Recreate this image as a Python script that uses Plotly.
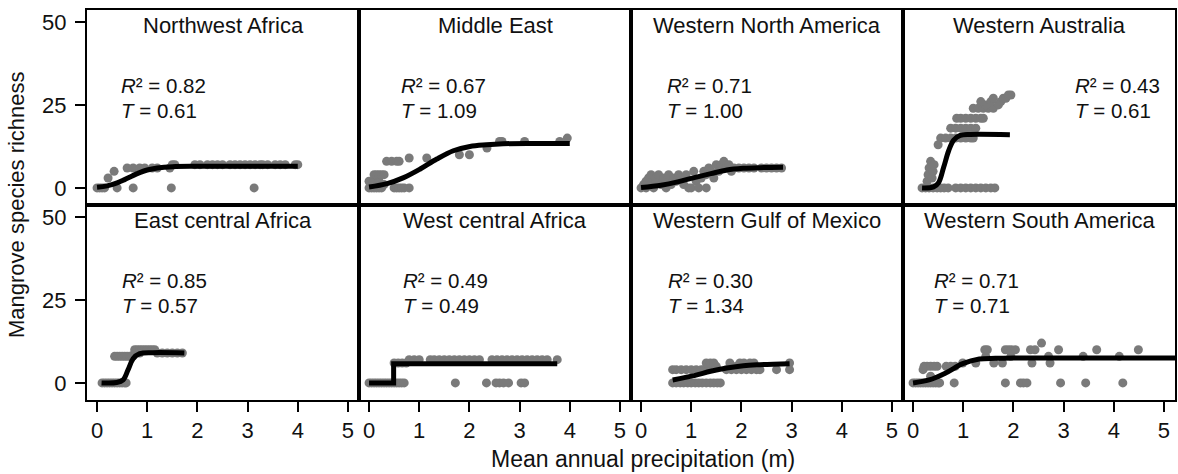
import plotly.graph_objects as go
from plotly.subplots import make_subplots

regions = ["Northwest Africa", "Middle East", "Western North America", "Western Australia",
           "East central Africa", "West central Africa", "Western Gulf of Mexico", "Western South America"]
r2_vals = ["0.82", "0.67", "0.71", "0.43", "0.85", "0.49", "0.30", "0.71"]
t_vals = ["0.61", "1.09", "1.00", "0.61", "0.57", "0.49", "1.34", "0.71"]
label_x = [0.44, 0.59, 0.47, 3.19, 0.46, 0.63, 0.49, 0.37]

x_ticks = [0, 1, 2, 3, 4, 5]
y_ticks = [0, 25, 50]

# ---------- observed points ----------
nwa_x = [0.0, 0.05, 0.1, 0.15, 0.22, 0.34, 0.4, 0.6, 0.72, 0.72, 0.85, 0.95, 1.1, 1.2, 1.45,
         1.48, 1.5, 1.55, 1.95, 2.05, 2.2, 2.3, 2.4, 2.5, 2.65, 2.75, 2.85, 2.95, 3.05,
         3.13, 3.15, 3.25, 3.3, 3.4, 3.55, 3.65, 3.75, 3.95, 4.0]
nwa_y = [0, 0, 0, 0, 3, 5, 0, 6, 0, 6, 6, 6, 6, 6, 6,
         0, 7, 7, 7, 7, 7, 7, 7, 7, 7, 7, 7, 7, 7,
         0, 7, 7, 7, 7, 7, 7, 7, 7, 7]

me_x = [0.0, 0.05, 0.1, 0.15, 0.2, 0.25, 0.5, 0.55, 0.6, 0.65, 0.7, 0.8,
        0.05, 0.15, 0.3, 0.0, 0.1, 0.2, 0.1, 0.15, 0.2, 0.25, 0.3,
        0.35, 0.45, 0.55, 0.6, 0.8, 1.15, 1.8, 2.0, 2.35, 2.6, 2.65, 3.1, 3.8, 3.95]
me_y = [0, 0, 0, 0, 0, 0, 0, 0, 0, 0, 0, 0,
        1, 1, 1, 2, 2, 2, 4, 4, 4, 4, 4,
        8, 8, 8, 8, 9, 9, 10, 10, 12, 14, 14, 14, 14, 15]

wna_x = [0.0, 0.05, 0.1, 0.1, 0.15, 0.2, 0.2, 0.25, 0.3, 0.3, 0.35, 0.4, 0.45, 0.5, 0.5,
         0.55, 0.6, 0.65, 0.7, 0.75, 0.8, 0.85, 0.9, 0.95, 1.0, 1.05, 1.1, 1.15, 1.2,
         1.25, 1.3, 1.3, 1.35, 1.4, 1.45, 1.5, 1.55, 1.6, 1.65, 1.7, 1.75, 1.8, 1.85,
         1.95, 2.05, 2.15, 2.25, 2.4, 2.5, 2.6, 2.7, 2.8]
wna_y = [0, 1, 0, 2, 3, 1, 4, 0, 2, 3, 4, 1, 3, 0, 2,
         4, 1, 3, 2, 4, 3, 1, 4, 0, 0, 5, 2, 0, 3,
         5, 0, 4, 6, 5, 3, 7, 5, 7, 8, 6, 7, 5, 6,
         6, 6, 6, 6, 6, 6, 6, 6, 6]

wa_x = [0.18, 0.25, 0.32, 0.4, 0.48, 0.55, 0.62, 0.7, 0.85, 0.95, 1.05, 1.15, 1.25, 1.35, 1.45, 1.55, 1.63,
        0.28, 0.3, 0.32, 0.35, 0.38, 0.4, 0.42, 0.5,
        0.55, 0.65, 0.75, 0.85, 0.95, 1.05, 1.15, 1.2,
        0.75, 0.85, 0.95, 1.05, 1.15, 1.25,
        0.87, 0.95, 1.05, 1.15, 1.25, 1.35, 1.4,
        1.2, 1.3, 1.4, 1.5, 1.6, 1.45, 1.7, 1.35, 1.55, 1.75, 1.6, 1.8, 1.85, 1.9, 1.95]
wa_y = [0, 0, 0, 0, 0, 0, 0, 0, 0, 0, 0, 0, 0, 0, 0, 0, 0,
        2, 4, 6, 8, 3, 5, 7, 13,
        15, 15, 15, 15, 15, 15, 15, 15,
        18, 18, 18, 18, 18, 18,
        21, 21, 21, 21, 21, 21, 21,
        24, 24, 24, 24, 24, 25, 25, 26, 26, 26, 27, 27, 27, 28, 28]

eca_x = [0.1, 0.15, 0.2, 0.25, 0.3, 0.35, 0.4, 0.45, 0.5, 0.55, 0.58,
         0.35, 0.4, 0.45, 0.5, 0.55, 0.6, 0.65, 0.7,
         0.75, 0.85, 1.2, 1.3, 1.4, 1.5, 1.6, 1.7,
         0.75, 0.8, 0.85, 0.9, 0.95, 1.0, 1.05, 1.1, 1.15]
eca_y = [0, 0, 0, 0, 0, 0, 0, 0, 0, 0, 0,
         8, 8, 8, 8, 8, 8, 8, 8,
         9, 9, 9, 9, 9, 9, 9, 9,
         10, 10, 10, 10, 10, 10, 10, 10, 10]

wca_x = [0.0, 0.05, 0.1, 0.15, 0.2, 0.25, 0.3, 0.35, 0.4, 0.45, 0.5, 0.55, 0.6, 0.65, 0.7,
         1.72, 2.34, 2.53, 2.6, 2.68, 2.78, 3.03, 3.1,
         0.5, 0.58, 0.66, 0.74,
         0.8, 0.9, 1.0, 1.22, 1.3, 1.4, 1.5, 1.6, 1.7, 1.8, 1.9, 2.0, 2.1, 2.2,
         2.45, 2.55, 2.65, 2.75, 2.85, 2.95, 3.05, 3.15, 3.25, 3.35, 3.45, 3.55, 3.75]
wca_y = [0, 0, 0, 0, 0, 0, 0, 0, 0, 0, 0, 0, 0, 0, 0,
         0, 0, 0, 0, 0, 0, 0, 0,
         6, 6, 6, 6,
         7, 7, 7, 7, 7, 7, 7, 7, 7, 7, 7, 7, 7, 7,
         7, 7, 7, 7, 7, 7, 7, 7, 7, 7, 7, 7, 7]

wgm_x = [0.63, 0.7, 0.78, 0.85, 0.93, 1.0, 1.08, 1.15, 1.22, 1.3, 1.38, 1.45, 1.52, 1.58,
         0.63, 0.7, 0.8, 0.9, 1.0, 1.1, 1.2, 1.25, 1.7, 1.8, 1.9, 2.0, 2.1, 2.2, 2.3, 2.37, 2.7, 2.96,
         1.35, 1.5, 1.9,
         1.3, 1.38, 1.45, 1.77, 1.97, 2.05, 2.17, 2.25, 2.96]
wgm_y = [0, 0, 0, 0, 0, 0, 0, 0, 0, 0, 0, 0, 0, 0,
         4, 4, 4, 4, 4, 4, 4, 4, 4, 4, 4, 4, 4, 4, 4, 4, 4, 4,
         5, 5, 5,
         6, 6, 6, 6, 6, 6, 6, 6, 6]

wsa_x = [0.0, 0.05, 0.1, 0.15, 0.2, 0.25, 0.3, 0.35, 0.4, 0.45, 0.5, 0.53, 0.82, 1.84, 2.14, 2.2, 2.27, 2.94, 3.44, 4.18,
         0.35, 0.45, 0.2,
         0.22, 0.28, 0.35, 0.42, 0.48, 0.66, 0.75, 0.84,
         0.99, 1.25, 1.61, 1.78, 2.37, 2.73,
         1.45, 1.95, 2.7, 3.39, 4.11,
         1.43, 1.48, 1.84, 1.9, 1.96, 2.04, 2.34, 2.43, 2.9, 3.66, 4.49,
         2.56]
wsa_y = [0, 0, 0, 0, 0, 0, 0, 0, 0, 0, 0, 0, 0, 0, 0, 0, 0, 0, 0, 0,
         2, 1, 4,
         5, 5, 5, 5, 5, 5, 5, 5,
         6, 6, 6, 6, 6, 6,
         8, 8, 8, 8, 8,
         10, 10, 10, 10, 10, 10, 10, 10, 10, 10, 10,
         12]

# ---------- fitted curves ----------
nwa_fx = [0.0, 0.2, 0.4, 0.55, 0.7, 0.85, 1.0, 1.2, 1.5, 2.0, 3.0, 4.0]
nwa_fy = [0.2, 0.6, 1.5, 2.5, 3.6, 4.6, 5.4, 6.0, 6.4, 6.5, 6.5, 6.5]
me_fx = [0.0, 0.36, 0.69, 1.02, 1.35, 1.68, 2.01, 2.34, 2.67, 3.3, 4.0]
me_fy = [0.3, 1.3, 3.1, 5.7, 8.7, 11.2, 12.5, 13.0, 13.3, 13.4, 13.4]
wna_fx = [0.0, 0.4, 0.73, 1.06, 1.39, 1.71, 2.04, 2.37, 2.83]
wna_fy = [0.1, 0.8, 1.8, 3.1, 4.3, 5.4, 5.9, 6.1, 6.2]
wa_fx = [0.18, 0.41, 0.51, 0.61, 0.71, 0.81, 0.94, 1.14, 1.93]
wa_fy = [0.0, 0.3, 1.6, 6.2, 11.2, 14.4, 15.8, 16.1, 16.0]
eca_fx = [0.09, 0.39, 0.52, 0.62, 0.72, 0.85, 1.11, 1.74]
eca_fy = [0.0, 0.1, 0.9, 4.0, 7.3, 8.8, 9.1, 9.0]
wca_fx = [0.0, 0.49, 0.49, 3.75]
wca_fy = [0.0, 0.0, 5.8, 5.8]
wgm_fx = [0.63, 1.06, 1.385, 1.71, 2.04, 2.37, 2.96]
wgm_fy = [0.9, 2.2, 3.5, 4.5, 5.2, 5.5, 5.8]
wsa_fx = [0.0, 0.32, 0.65, 0.99, 1.32, 1.64, 2.0, 3.0, 4.0, 5.22]
wsa_fy = [0.0, 0.9, 3.0, 5.8, 7.2, 7.4, 7.5, 7.5, 7.5, 7.5]

points = [(nwa_x, nwa_y), (me_x, me_y), (wna_x, wna_y), (wa_x, wa_y),
          (eca_x, eca_y), (wca_x, wca_y), (wgm_x, wgm_y), (wsa_x, wsa_y)]
fits = [(nwa_fx, nwa_fy), (me_fx, me_fy), (wna_fx, wna_fy), (wa_fx, wa_fy),
        (eca_fx, eca_fy), (wca_fx, wca_fy), (wgm_fx, wgm_fy), (wsa_fx, wsa_fy)]

FONT = "Arial, Liberation Sans, Helvetica, sans-serif"
TXT = "#111111"
PT = "#7a7a7a"

fig = make_subplots(rows=2, cols=4, horizontal_spacing=0, vertical_spacing=0)

for i in range(8):
    r, c = i // 4 + 1, i % 4 + 1
    px, py = points[i]
    fx, fy = fits[i]
    fig.add_trace(go.Scatter(x=px, y=py, mode="markers",
                             marker=dict(size=9, color=PT, line=dict(width=0)),
                             showlegend=False, cliponaxis=True), row=r, col=c)
    shape = "linear" if i == 5 else "spline"
    fig.add_trace(go.Scatter(x=fx, y=fy, mode="lines",
                             line=dict(color="black", width=5, shape=shape),
                             showlegend=False), row=r, col=c)
    xref = "x" if i == 0 else f"x{i+1}"
    yref = "y" if i == 0 else f"y{i+1}"
    fig.add_annotation(text=regions[i], xref=f"{xref} domain", yref=f"{yref} domain",
                       x=0.5, y=1, yshift=-1, xanchor="center", yanchor="top", showarrow=False,
                       font=dict(size=22, color=TXT, family=FONT))
    fig.add_annotation(text=f"<i>R</i>² = {r2_vals[i]}", xref=xref, yref=yref,
                       x=label_x[i], y=31, xanchor="left", yanchor="middle", showarrow=False,
                       font=dict(size=20.5, color=TXT, family=FONT))
    fig.add_annotation(text=f"<i>T</i> = {t_vals[i]}", xref=xref, yref=yref,
                       x=label_x[i], y=23.3, xanchor="left", yanchor="middle", showarrow=False,
                       font=dict(size=20.5, color=TXT, family=FONT))

for i in range(8):
    r, c = i // 4 + 1, i % 4 + 1
    fig.update_xaxes(range=[-0.2, 5.22], showgrid=False, zeroline=False,
                     showline=True, mirror=True, linecolor="black", linewidth=2,
                     tickvals=x_ticks if r == 2 else [], ticktext=[str(v) for v in x_ticks] if r == 2 else [],
                     ticks="outside" if r == 2 else "", ticklen=10, tickwidth=1.5, tickcolor="black",
                     showticklabels=(r == 2),
                     tickfont=dict(size=22, color=TXT, family=FONT), row=r, col=c)
    fig.update_yaxes(range=[-5.15, 53.6], showgrid=False, zeroline=False,
                     showline=True, mirror=True, linecolor="black", linewidth=2,
                     tickvals=y_ticks if c == 1 else [], ticktext=[str(v) for v in y_ticks] if c == 1 else [],
                     ticks="outside" if c == 1 else "", ticklen=10, tickwidth=1.5, tickcolor="black",
                     showticklabels=(c == 1), ticklabelstandoff=4,
                     tickfont=dict(size=22, color=TXT, family=FONT), row=r, col=c)

fig.add_annotation(text="Mean annual precipitation (m)", xref="paper", yref="paper",
                   x=0.511, y=0, yshift=-59, xanchor="center", yanchor="middle", showarrow=False,
                   borderpad=0, font=dict(size=23, color=TXT, family=FONT))
fig.add_annotation(text="Mangrove species richness", xref="paper", yref="paper",
                   x=0, xshift=-71, y=0.5, xanchor="center", yanchor="middle", textangle=-90,
                   showarrow=False, font=dict(size=22, color=TXT, family=FONT))

fig.update_layout(width=1178, height=474, margin=dict(l=87, r=1, t=10, b=74),
                  plot_bgcolor="white", paper_bgcolor="white", showlegend=False)

fig.write_html("out.html")
